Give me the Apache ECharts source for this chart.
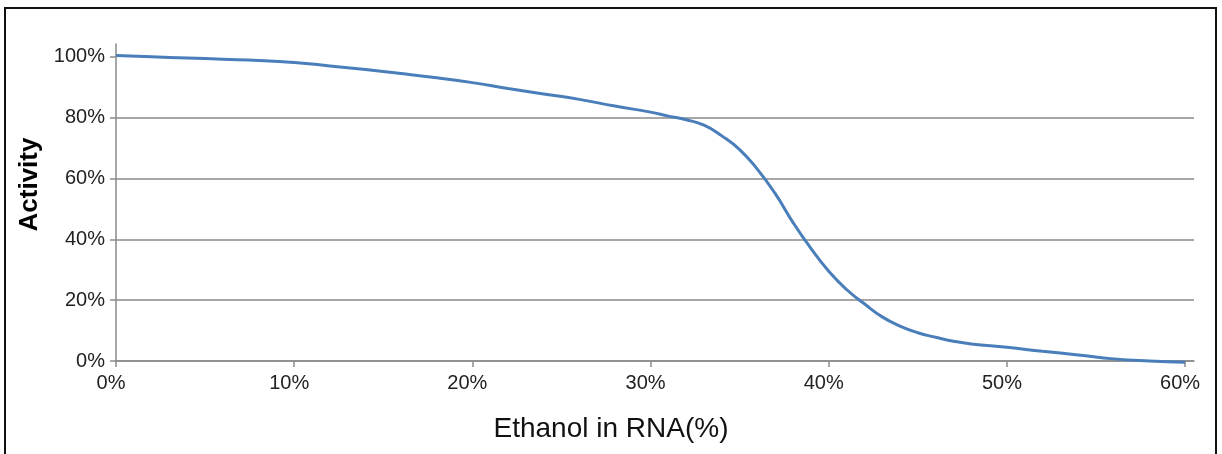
<!DOCTYPE html>
<html>
<head>
<meta charset="utf-8">
<script src="https://cdn.jsdelivr.net/npm/echarts@6/dist/echarts.min.js"></script>
<style>
html,body{margin:0;padding:0;background:#fff;}
#chart{width:1222px;height:454px;}
</style>
</head>
<body>
<div id="chart"></div>
<script>
// Ethanol concentration (%) and measured activity (%)
const ethanol = [0, 2, 4, 6, 8, 10, 12, 14, 16, 18, 20, 22, 24, 26, 28, 30, 31, 32, 33, 34, 35, 36, 37, 38, 39, 40, 41, 42, 43, 44, 45, 46, 47, 48, 50, 52, 54, 56, 58, 60];
const activity = [100.4, 100.0, 99.6, 99.2, 98.8, 98.1, 97.0, 95.8, 94.5, 93.1, 91.5, 89.6, 87.8, 86.0, 83.8, 81.8, 80.5, 79.3, 77.5, 74.0, 69.5, 63.0, 55.0, 45.5, 37.0, 29.5, 23.5, 18.8, 14.5, 11.5, 9.3, 7.8, 6.5, 5.6, 4.5, 3.2, 2.0, 0.7, 0.0, -0.4];
const xTicks = [0, 10, 20, 30, 40, 50, 60];
const yTicks = [0, 20, 40, 60, 80, 100];

const seriesData = ethanol.map((x, i) => [x, activity[i]]);
const chart = echarts.init(document.getElementById('chart'), null, {renderer: 'canvas'});
const font = 'Liberation Sans, Arial, sans-serif';
chart.setOption({
  animation: false,
  backgroundColor: '#fff',
  grid: {left: 116, right: 28, top: 44, bottom: 93, containLabel: false},
  xAxis: {
    type: 'value', min: 0, max: 60.5, interval: 10,
    name: 'Ethanol in RNA(%)', nameLocation: 'middle', nameGap: 54,
    nameTextStyle: {fontFamily: font, fontSize: 28, color: '#111', padding: [0, 88, 0, 0]},
    axisLine: {show: true, lineStyle: {color: '#8a8a8a', width: 1.5}},
    axisTick: {show: true, length: 6, lineStyle: {color: '#8a8a8a', width: 1.5}, customValues: xTicks},
    axisLabel: {fontFamily: font, fontSize: 20, color: '#222', margin: 12, padding: [0, 10, 0, 0],
      customValues: xTicks, formatter: v => v + '%'},
    splitLine: {show: false}
  },
  yAxis: {
    type: 'value', min: 0, max: 104.2, interval: 20,
    name: 'Activity', nameLocation: 'middle', nameGap: 73, nameRotate: 90,
    nameTextStyle: {fontFamily: font, fontSize: 26, fontWeight: 'bold', color: '#000', padding: [0, 0, 0, 36]},
    axisLine: {show: true, lineStyle: {color: '#8a8a8a', width: 1.5}},
    axisTick: {show: true, length: 6, lineStyle: {color: '#8a8a8a', width: 1.5}, customValues: yTicks},
    axisLabel: {fontFamily: font, fontSize: 20, color: '#222', margin: 11,
      customValues: yTicks, formatter: v => v + '%'},
    splitLine: {show: true, showMaxLine: false, lineStyle: {color: '#8a8a8a', width: 1.5}}
  },
  series: [{
    type: 'line',
    data: seriesData,
    smooth: 0.5,
    showSymbol: false,
    clip: false,
    lineStyle: {color: '#4a7ebb', width: 3}
  }],
  graphic: [{
    type: 'rect', z: 100,
    shape: {x: 5, y: 8, width: 1211, height: 460},
    style: {fill: 'none', stroke: '#111', lineWidth: 2}
  }]
});
</script>
</body>
</html>
